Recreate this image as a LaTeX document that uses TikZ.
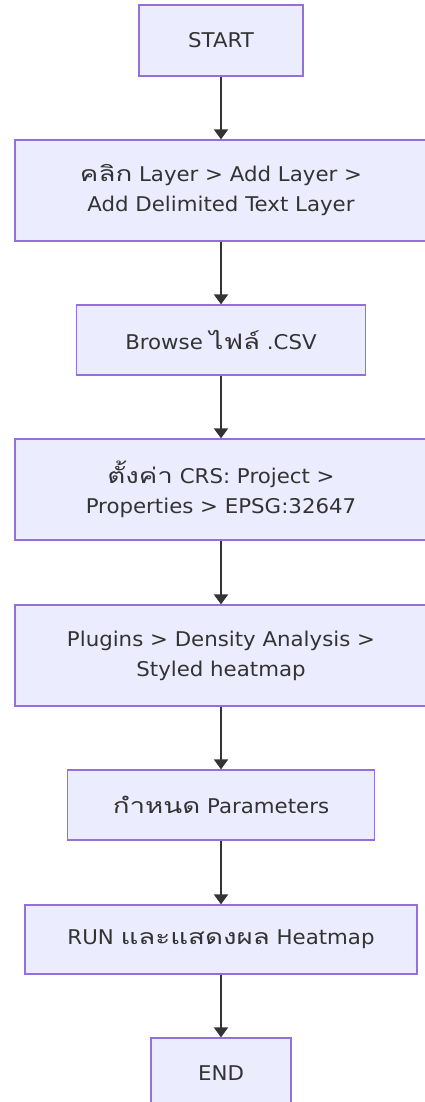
\documentclass[tikz,border=0pt]{standalone}
\usepackage{fontspec}
\setmainfont[FakeStretch=1.05]{DejaVu Sans}
\newfontfamily\thaifont[Script=Thai,Scale=1.05,FakeStretch=1.3]{Loma}
\usetikzlibrary{arrows.meta}
\definecolor{mmfill}{HTML}{ECECFF}
\definecolor{mmstroke}{HTML}{9370DB}
\definecolor{mmtext}{HTML}{333333}
\newcommand{\thaitxt}[1]{{\thaifont #1}}
\tikzset{
  flowbox/.style={draw=mmstroke, fill=mmfill, line width=1.3pt, text=mmtext,
    align=center, inner sep=0pt, font=\fontsize{20.3}{30}\selectfont},
  arr/.style={draw=mmtext, line width=2pt, -{Triangle[width=14pt,length=10pt]}},
}
\begin{document}
\begin{tikzpicture}[x=1pt,y=-1pt]
\useasboundingbox (0,0) rectangle (425,1102);
\fill[white] (0,0) rectangle (425,1102);
\node[flowbox, minimum width=164pt, minimum height=71pt] (n1) at (221,40.5) {START};
\node[flowbox, minimum width=412pt, minimum height=101pt] (n2) at (221,190.5) {\thaitxt{คลิก} Layer > Add Layer >\\Add Delimited Text Layer};
\node[flowbox, minimum width=289pt, minimum height=70pt] (n3) at (221,340) {Browse \thaitxt{ไฟล์} .CSV};
\node[flowbox, minimum width=412pt, minimum height=101pt] (n4) at (221,489.5) {\thaitxt{ตั้งค่า} CRS: Project >\\Properties > EPSG:32647};
\node[flowbox, minimum width=412pt, minimum height=101pt] (n5) at (221,655.5) {Plugins > Density Analysis >\\Styled heatmap};
\node[flowbox, minimum width=307pt, minimum height=70pt] (n6) at (221,805) {\thaitxt{กำหนด} Parameters};
\node[flowbox, minimum width=392pt, minimum height=69pt] (n7) at (221,939.5) {RUN \thaitxt{และแสดงผล} Heatmap};
\node[flowbox, minimum width=140pt, minimum height=70pt] (n8) at (221,1073) {END};
\draw[arr] (n1) -- (n2);
\draw[arr] (n2) -- (n3);
\draw[arr] (n3) -- (n4);
\draw[arr] (n4) -- (n5);
\draw[arr] (n5) -- (n6);
\draw[arr] (n6) -- (n7);
\draw[arr] (n7) -- (n8);
\end{tikzpicture}
\end{document}
